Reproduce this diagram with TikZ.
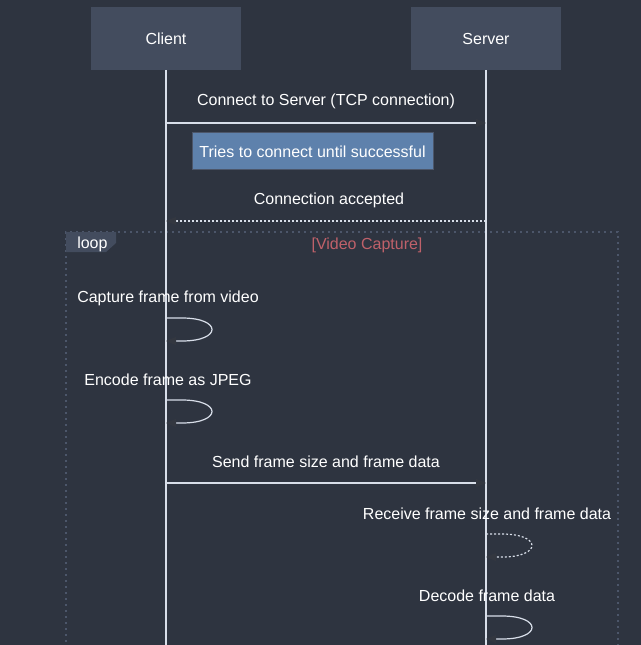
\documentclass[tikz,border=0pt]{standalone}
\usepackage{fontspec}
\setmainfont{Liberation Sans}
\usetikzlibrary{arrows.meta}
\definecolor{bgc}{HTML}{2E3440}
\definecolor{actorc}{HTML}{434C5E}
\definecolor{linec}{HTML}{D8DEE9}
\definecolor{notec}{HTML}{5E81AC}
\definecolor{noteb}{HTML}{4C566A}
\definecolor{framec}{HTML}{4C566A}
\definecolor{condc}{HTML}{BF616A}
\definecolor{tipc}{HTML}{333740}
\tikzset{
  actor/.style={fill=actorc, draw=none, minimum width=112.5pt, minimum height=47.25pt, text=white},
  lbl/.style={text=white, inner sep=0pt},
  msg/.style={draw=linec, line width=0.9pt, -{Triangle[length=7.5pt, width=6pt, color=tipc]}},
  reply/.style={msg, dash pattern=on 1.5pt off 1.5pt},
  life/.style={draw=linec, line width=1.1pt},
  notebox/.style={fill=notec, draw=noteb, line width=0.75pt, text=white, minimum width=180.75pt, minimum height=27.75pt},
}
\newcommand{\selfloop}[3][]{\draw[msg,#1] (#2) -- ++(16,0) .. controls ++(40,0) and ++(40,0) .. ++(0,23) -- (#3);}
\begin{document}
\begin{tikzpicture}[x=0.75pt, y=-0.75pt, font=\fontsize{12}{14}\selectfont]
		%%%%% START %%%%%
		\useasboundingbox (0,0) rectangle (641,645);
		\fill[bgc] (0,0) rectangle (641,645);
		\clip (0,0) rectangle (641,645);
		
		% loop frame
		\draw[framec, line width=1.1pt, dash pattern=on 1.5pt off 3pt] (66,660) -- (66,232) -- (618,232) -- (618,660);
		\fill[actorc] (66,232) -- (116,232) -- (116,243) -- (106,252) -- (66,252) -- cycle;
		\node[lbl, anchor=west] (looptag) at (77,244) {loop};
		\node[lbl, text=condc] (cond) at (367,245) {[Video Capture]};
		
		% actors and lifelines
		\node[actor] (client) at (166,38.5) {Client};
		\node[actor] (server) at (486,38.5) {Server};
		\coordinate (cend) at (166,660);
		\coordinate (send) at (486,660);
		\draw[life] (client.south) -- (cend);
		\draw[life] (server.south) -- (send);
		
		% handshake
		\node[lbl] (t1) at (326,101) {Connect to Server (TCP connection)};
		\coordinate (c1) at (166,123);
		\coordinate (s1) at (486,123);
		\draw[msg] (c1) -- (s1);
		\node[notebox] (note) at (312.5,151.5) {Tries to connect until successful};
		\node[lbl] (t2) at (329,200) {Connection accepted};
		\coordinate (c2) at (166,221);
		\coordinate (s2) at (486,221);
		\draw[reply] (s2) -- (c2);
		
		% client side
		\node[lbl] (t3) at (168,298) {Capture frame from video};
		\coordinate (c3a) at (166,318);
		\coordinate (c3b) at (166,341);
		\selfloop{c3a}{c3b}
		\node[lbl] (t4) at (168,380) {Encode frame as JPEG};
		\coordinate (c4a) at (166,400);
		\coordinate (c4b) at (166,423);
		\selfloop{c4a}{c4b}
		\node[lbl] (t5) at (326,462) {Send frame size and frame data};
		\coordinate (c5) at (166,483);
		\coordinate (s5) at (486,483);
		\draw[msg] (c5) -- (s5);
		
		% server side
		\node[lbl] (t6) at (487,514) {Receive frame size and frame data};
		\coordinate (s6a) at (486,534);
		\coordinate (s6b) at (486,557);
		\selfloop[dash pattern=on 1.5pt off 1.5pt]{s6a}{s6b}
		\node[lbl] (t7) at (487,596) {Decode frame data};
		\coordinate (s7a) at (486,616);
		\coordinate (s7b) at (486,639);
		\selfloop{s7a}{s7b}
		%%%%% END %%%%%
	\end{tikzpicture}
\end{document}
